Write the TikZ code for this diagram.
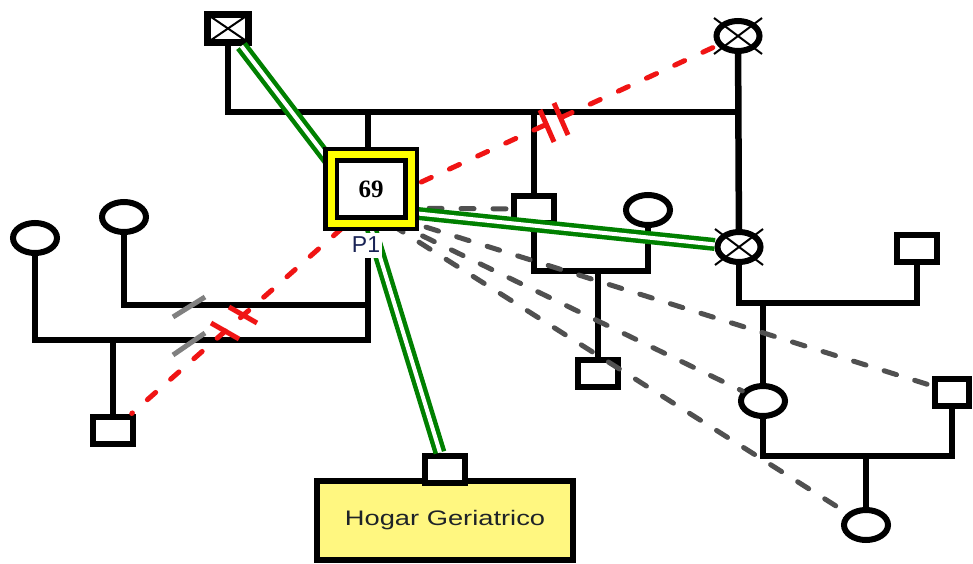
\documentclass[tikz,border=0pt]{standalone}
\usepackage{fontspec}
\setmainfont{Liberation Serif}
\newfontfamily\sansf{Liberation Sans}
\usepackage{graphicx}
\usetikzlibrary{shapes.geometric}
\definecolor{gline}{RGB}{0,128,0}
\definecolor{rline}{RGB}{240,20,20}
\definecolor{dline}{RGB}{80,80,80}
\definecolor{pyellow}{RGB}{255,255,0}
\definecolor{hyellow}{RGB}{255,247,128}
\definecolor{ptext}{RGB}{25,35,85}
\definecolor{htext}{RGB}{30,35,40}
\begin{document}
\begin{tikzpicture}[x=1pt,y=-1pt,
  male/.style={draw=black, line width=6pt, fill=white, rectangle, inner sep=0pt, minimum width=40pt, minimum height=27pt},
  female/.style={draw=black, line width=6pt, fill=white, ellipse, inner sep=0pt, minimum width=44pt, minimum height=30pt},
  famline/.style={draw=black, line width=6.5pt},
  crossx/.style={draw=black, line width=2pt},
  closeline/.style={draw=gline, line width=4.5pt, double=white, double distance=4pt},
  conflict/.style={draw=rline, line width=5pt, dash pattern=on 11pt off 20pt, line cap=round},
  distant/.style={draw=dline, line width=5pt, dash pattern=on 13pt off 19pt, line cap=round},
  cutmark/.style={draw=rline, line width=5pt},
  sepmark/.style={draw=gray, line width=5pt},
]
\useasboundingbox (0,0) rectangle (973,564);
\fill[white] (0,0) rectangle (973,564);

% helper coordinates
\coordinate (topbar) at (0,112);
\coordinate (c1) at (0,271);
\coordinate (c2) at (0,303);
\coordinate (c3) at (0,456);
\coordinate (c4) at (0,305);
\coordinate (c5) at (0,340);
\coordinate (p1c) at (365,208);
\coordinate (p1top) at (368,148);
\coordinate (p1foot) at (368,257);

% people
\node[male, line width=7pt, minimum width=41pt, minimum height=28pt] (gfA) at (228,28.5) {};
\draw[crossx] ([shift={(3.5,3.5)}]gfA.north west) -- ([shift={(-3.5,-3.5)}]gfA.south east);
\draw[crossx] ([shift={(-3.5,3.5)}]gfA.north east) -- ([shift={(3.5,-3.5)}]gfA.south west);

\node[female, minimum width=43pt, minimum height=30pt] (gmA) at (738,36) {};
\draw[crossx] ([shift={(-24,-18)}]gmA.center) -- ([shift={(24,18)}]gmA.center);
\draw[crossx] ([shift={(24,-18)}]gmA.center) -- ([shift={(-24,18)}]gmA.center);

\node[female, minimum width=43pt, minimum height=30pt] (sisX) at (739,247) {};
\draw[crossx] ([shift={(-24,-18)}]sisX.center) -- ([shift={(24,18)}]sisX.center);
\draw[crossx] ([shift={(24,-18)}]sisX.center) -- ([shift={(-24,18)}]sisX.center);

\node[male] (bro) at (534,209) {};
\node[female] (broW) at (648,210) {};
\node[male] (broKid) at (598,373) {};
\node[male] (sisH) at (917,248) {};
\node[female] (niece) at (763,401) {};
\node[male, minimum width=34pt] (nieceH) at (952,392) {};
\node[female] (gkid) at (866,525) {};
\node[female] (w1) at (35,238) {};
\node[female] (w2) at (124,217) {};
\node[male] (son) at (113,430) {};

\node[draw=black, line width=6pt, fill=hyellow, minimum width=256pt, minimum height=79pt, inner sep=0pt, text=htext]
  (hogar) at (445,520.5) {\sansf\fontsize{21}{25}\selectfont\scalebox{1.3}[1]{Hogar Geriatrico}};
\node[male] (hsq) at (445,469) {};

% family lines
\draw[famline] (gfA.south) -- (gfA.south |- topbar) -- (gmA.south |- topbar);
\draw[famline] (gmA) -- (sisX);
\draw[famline] (p1top) -- (p1top |- topbar);
\draw[famline] (bro.north) -- (bro.north |- topbar);
\draw[famline] (bro.south) -- (bro.south |- c1) -- (broW.south |- c1) -- (broW.south);
\draw[famline] (broKid.north |- c1) -- (broKid.north);
\draw[famline] (sisX.south) -- (sisX.south |- c2) -- (sisH.south |- c2) -- (sisH.south);
\draw[famline] (niece.north |- c2) -- (niece.north);
\draw[famline] (niece.south) -- (niece.south |- c3) -- (nieceH.south |- c3) -- (nieceH.south);
\draw[famline] (gkid.north |- c3) -- (gkid.north);
\draw[famline] (w2.south) -- (w2.south |- c4) -- (p1foot |- c4);
\draw[famline] (w1.south) -- (w1.south |- c5) -- (p1foot |- c5) -- (p1foot);
\draw[famline] (son.north |- c5) -- (son.north);

% separation marks
\draw[sepmark] (173,317) -- (205,297);
\draw[sepmark] (173,355) -- (205,333);

% distant relations
\draw[distant] (p1c) -- (bro);
\draw[distant] (p1c) -- (nieceH);
\draw[distant] (p1c) -- (niece);
\draw[distant] (p1c) -- (gkid);

% conflictive / broken relations
\draw[conflict] (p1c) -- (gmA);
\draw[cutmark] (540,110) -- (554,142);
\draw[cutmark] (554,103) -- (568,135);
\draw[conflict] (p1c) -- (son);
\draw[cutmark] (211,323) -- (239,339);
\draw[cutmark] (229,307) -- (257,323);

% close relations
\draw[closeline] (p1c) -- (gfA);
\draw[closeline] (p1c) -- (sisX);
\draw[closeline] (p1c) -- (hsq);

% index person
\node[rectangle, draw=black, line width=4.5pt, double=pyellow, double distance=7pt, fill=white,
  minimum width=80pt, minimum height=68pt, inner sep=0pt,
  font=\bfseries\fontsize{25}{30}\selectfont] (p1) at (371,189) {69};
\node[fill=white, inner sep=0pt, minimum width=32pt, minimum height=25pt, text=ptext,
  font=\sansf\fontsize{23}{27}\selectfont] (p1lab) at (366,245) {P1};
\end{tikzpicture}
\end{document}
